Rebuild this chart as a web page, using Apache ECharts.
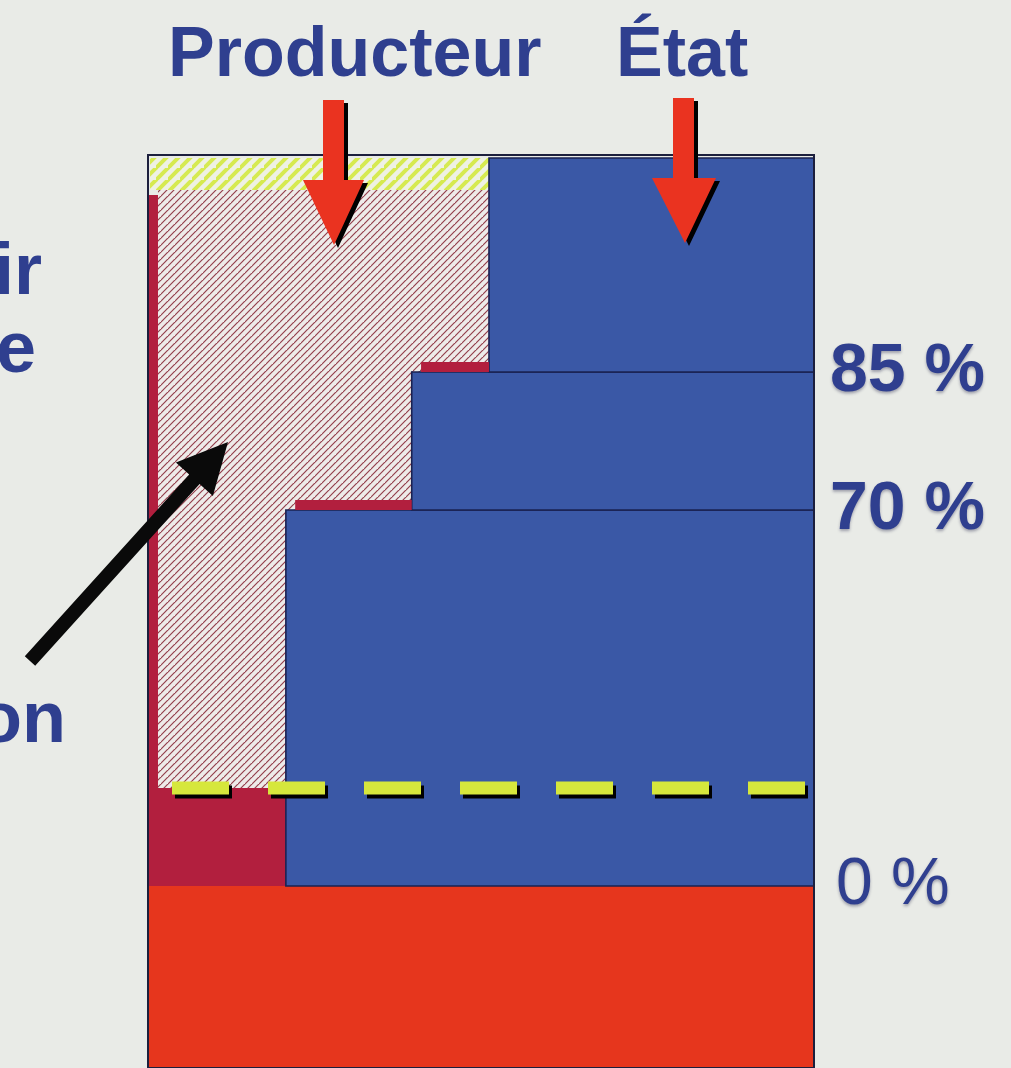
<!DOCTYPE html>
<html>
<head>
<meta charset="utf-8">
<script src="https://cdn.jsdelivr.net/npm/echarts@6/dist/echarts.min.js"></script>
<style>
html,body{margin:0;padding:0;background:#E9EBE7;}
#chart{width:1011px;height:1068px;}
</style>
</head>
<body>
<div id="chart"></div>
<script>
// ---- data (schematic heights in drawing units, widths in % of box) ----
const levelLabels = ['0 %', '70 %', '85 %'];
const levelValues = [0, 37.6, 51.4, 72.8];   // tier boundaries; last = top of the box
const stepStarts = [20.7, 39.6, 51.2];       // where each blue tier begins (share of width)
const baseBottom = -18.2;                    // bottom of the red base
const floorLevel = 9.8;                      // dashed threshold line
const hatchTop = 69.6;                       // top of the hatched producer zone
const boxTop = 73.1;
const topTitles = ['Producteur', 'État'];
const sideWords = ['ir', 'e', 'on'];

// ---- patterns ----
function makePattern(size, bg, line, lw) {
  const c = document.createElement('canvas');
  c.width = size; c.height = size;
  const g = c.getContext('2d');
  g.fillStyle = bg; g.fillRect(0, 0, size, size);
  g.strokeStyle = line; g.lineWidth = lw;
  g.beginPath();
  g.moveTo(-1, size + 1); g.lineTo(size + 1, -1);
  g.moveTo(-size - 1, size + 1); g.lineTo(1, -1);
  g.moveTo(size - 1, 2 * size + 1); g.lineTo(2 * size + 1, size - 1);
  g.stroke();
  return { image: c, repeat: 'repeat' };
}
const hatchFill = makePattern(7, '#EEEBE9', '#94404C', 1.2);
const yellowFill = makePattern(12, '#EEF1E4', '#D6EA50', 4);

const styles = {
  base: { fill: '#E6361D', lineWidth: 0 },
  crimson: { fill: '#B21F3E', lineWidth: 0 },
  hatch: { fill: hatchFill, lineWidth: 0 },
  yellow: { fill: yellowFill, lineWidth: 0 },
  blue: { fill: '#3A58A6', stroke: '#1A2252', lineWidth: 1.6 }
};

// ---- build rectangles from the arrays ----
const rects = [];
rects.push([0, 100, baseBottom, 0, 'base']);
rects.push([0, stepStarts[0], 0, floorLevel, 'crimson']);
rects.push([1.5, stepStarts[2], floorLevel, hatchTop, 'hatch']);
rects.push([0, 1.5, floorLevel, hatchTop - 0.5, 'crimson']);
rects.push([0.3, stepStarts[2], hatchTop, levelValues[3], 'yellow']);
for (let i = 0; i < stepStarts.length; i++) {
  rects.push([stepStarts[i], 100, levelValues[i], levelValues[i + 1], 'blue']);
}
for (let i = 1; i < stepStarts.length; i++) {
  rects.push([stepStarts[i - 1] + 1.4, stepStarts[i], levelValues[i], levelValues[i] + 1.0, 'crimson']);
}

const chart = echarts.init(document.getElementById('chart'));
const blue = '#2F3F8F';
const font = '"Liberation Sans", Arial, sans-serif';

function poly(points, fill, shadow) {
  return {
    type: 'polygon', z: 100,
    shape: { points: points },
    style: { fill: fill, shadowColor: shadow ? '#000' : 'transparent', shadowOffsetX: 4, shadowOffsetY: 3, shadowBlur: 0 }
  };
}
function txt(text, x, y, size, weight, align) {
  return {
    type: 'text', z: 100, x: x, y: y,
    style: {
      text: text, fill: blue, font: weight + ' ' + size + 'px ' + font,
      textAlign: align || 'left', textVerticalAlign: 'middle',
      shadowColor: 'rgba(20,20,60,0.35)', shadowBlur: 3, shadowOffsetX: 1, shadowOffsetY: 2
    }
  };
}
const labelShadow = { textShadowColor: 'rgba(20,20,60,0.35)', textShadowBlur: 3, textShadowOffsetY: 2 };

chart.setOption({
  backgroundColor: '#E9EBE7',
  animation: false,
  grid: { left: 148, right: 197, top: 155, bottom: 0, show: true, borderColor: '#1C1F3D', borderWidth: 2, backgroundColor: 'transparent', z: 10 },
  xAxis: { type: 'value', min: 0, max: 100, show: false },
  yAxis: {
    type: 'value', position: 'right', min: baseBottom, max: boxTop,
    splitLine: { show: false }, axisLine: { show: false }, axisTick: { show: false },
    axisLabel: {
      customValues: levelValues.slice(0, 3),
      margin: 16,
      formatter: function (v) {
        const i = levelValues.indexOf(v);
        if (i < 0 || i >= levelLabels.length) return '';
        return i === 0 ? '{thin|' + levelLabels[i] + '}' : '{bold|' + levelLabels[i] + '}';
      },
      rich: {
        bold: Object.assign({ color: blue, fontFamily: font, fontSize: 68, fontWeight: 'bold' }, labelShadow),
        thin: Object.assign({ color: blue, fontFamily: font, fontSize: 66, fontWeight: 'normal', padding: [0, 0, 0, 6] }, labelShadow)
      },
      color: blue, fontFamily: font, fontSize: 68, fontWeight: 'bold'
    }
  },
  series: [
    {
      type: 'custom',
      coordinateSystem: 'cartesian2d',
      encode: { x: [0, 1], y: [2, 3] },
      data: rects.map(r => [r[0], r[1], r[2], r[3]]),
      clip: true,
      renderItem: function (params, api) {
        const r = rects[params.dataIndex];
        const p0 = api.coord([r[0], r[3]]);
        const p1 = api.coord([r[1], r[2]]);
        return {
          type: 'rect',
          shape: { x: p0[0], y: p0[1], width: p1[0] - p0[0], height: p1[1] - p0[1] },
          style: styles[r[4]]
        };
      },
      z: 2
    },
    {
      type: 'line',
      data: [[3.6, floorLevel], [98.8, floorLevel]],
      symbol: 'none',
      lineStyle: { color: '#D6E73C', width: 13, type: [57, 39], cap: 'butt', shadowColor: '#000', shadowOffsetX: 3, shadowOffsetY: 4, shadowBlur: 0 },
      z: 5
    }
  ],
  graphic: [
    txt(topTitles[0], 168, 57, 70, 'bold'),
    txt(topTitles[1], 616, 57, 70, 'bold'),
    txt(sideWords[0], 42, 274, 72, 'bold', 'right'),
    txt(sideWords[1], 36, 352, 72, 'bold', 'right'),
    txt(sideWords[2], 66, 722, 72, 'bold', 'right'),
    poly([[323,100],[344,100],[344,180],[364,180],[334,245],[303,180],[323,180]], '#EA3320', true),
    poly([[673,98],[694,98],[694,178],[716,178],[685,243],[652,178],[673,178]], '#EA3320', true),
    poly([[24.8,656.3],[189.2,474.5],[175.9,462.4],[228,442],[212.9,496],[199.6,483.9],[35.2,665.7]], '#0A0A0A', false)
  ]
});
</script>
</body>
</html>
